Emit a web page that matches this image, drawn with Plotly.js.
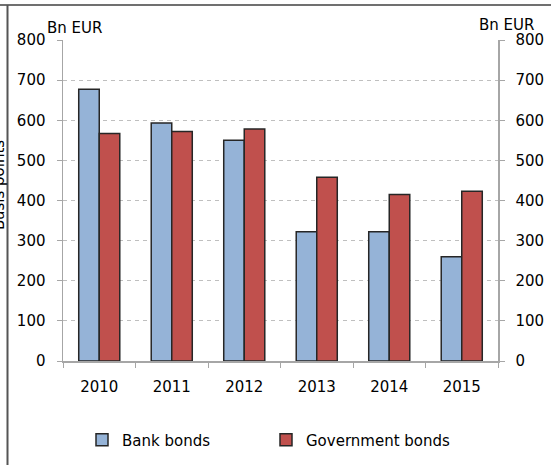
<!DOCTYPE html>
<html>
<head>
<meta charset="utf-8">
<script src="https://cdn.plot.ly/plotly-3.0.1.min.js"></script>
<style>
  html, body { margin: 0; padding: 0; background: #fff; }
  #chart { width: 551px; height: 465px; }
</style>
</head>
<body>
<div id="chart"></div>
<script>
const years = ['2010', '2011', '2012', '2013', '2014', '2015'];
const bankBonds = [677, 593, 550, 322, 322, 260];
const governmentBonds = [567, 572, 578, 458, 415, 423];
const yTicks = [0, 100, 200, 300, 400, 500, 600, 700, 800];
const seriesNames = ['Bank bonds', 'Government bonds'];
const unitLabel = 'Bn EUR';
const sideLabel = 'Basis points';

const W = 551, H = 465;
const M = { l: 63, r: 53, t: 40, b: 104 };
const PW = W - M.l - M.r, PH = H - M.t - M.b;
const px = x => (x - M.l) / PW;
const py = y => (H - M.b - y) / PH;

const FONT = 'DejaVu Sans, Verdana, sans-serif';
const lineCol = '#262626';

const traces = [
  {
    type: 'bar', name: seriesNames[0], x: years, y: bankBonds,
    marker: { color: '#95b3d7', line: { color: lineCol, width: 1.5 } },
    hoverinfo: 'skip'
  },
  {
    type: 'bar', name: seriesNames[1], x: years, y: governmentBonds,
    marker: { color: '#c0504d', line: { color: lineCol, width: 1.5 } },
    hoverinfo: 'skip'
  },
  {
    type: 'scatter', mode: 'none', x: years, y: years.map(() => null),
    yaxis: 'y2', showlegend: false, hoverinfo: 'skip'
  }
];

const yAxisCommon = {
  range: [0, 800],
  tickvals: yTicks,
  ticks: 'outside', ticklen: 5, tickcolor: '#a6a6a6', tickwidth: 1,
  showline: true, linecolor: '#a6a6a6', linewidth: 1.5,
  zeroline: false, fixedrange: true,
  tickfont: { family: FONT, size: 15, color: '#000' },
  ticklabelstandoff: 8
};

const layout = {
  width: W, height: H,
  margin: M,
  paper_bgcolor: '#fff', plot_bgcolor: '#fff',
  barmode: 'group', bargap: 0.434, bargroupgap: 0,
  showlegend: true,
  font: { family: FONT, color: '#000' },
  xaxis: {
    type: 'category', tickson: 'boundaries',
    ticks: 'outside', ticklen: 5, tickcolor: '#a6a6a6',
    showline: true, linecolor: '#a6a6a6', linewidth: 1.5,
    showgrid: false, zeroline: false, fixedrange: true,
    tickfont: { family: FONT, size: 15, color: '#000' },
    ticklabelstandoff: 11
  },
  yaxis: Object.assign({}, yAxisCommon, {
    showgrid: true, gridcolor: '#bfbfbf', griddash: '4px,4px', gridwidth: 1
  }),
  yaxis2: Object.assign({}, yAxisCommon, {
    overlaying: 'y', side: 'right', showgrid: false
  }),
  legend: {
    orientation: 'h',
    xref: 'container', x: 82 / W, xanchor: 'left',
    yref: 'container', y: 1 - 440 / H, yanchor: 'middle',
    font: { family: FONT, size: 15, color: '#000' },
    entrywidth: 139, entrywidthmode: 'pixels',
    bgcolor: 'rgba(0,0,0,0)', traceorder: 'normal'
  },
  annotations: [
    { text: unitLabel, xref: 'paper', yref: 'paper', x: px(74), y: py(28.5),
      xanchor: 'center', yanchor: 'middle', showarrow: false,
      font: { family: FONT, size: 15, color: '#000' } },
    { text: unitLabel, xref: 'paper', yref: 'paper', x: px(506), y: py(25),
      xanchor: 'center', yanchor: 'middle', showarrow: false,
      font: { family: FONT, size: 15, color: '#000' } },
    { text: sideLabel, xref: 'paper', yref: 'paper', x: px(-1), y: py(185),
      xanchor: 'center', yanchor: 'middle', showarrow: false, textangle: -90,
      font: { family: FONT, size: 15, color: '#000' } }
  ],
  shapes: [
    { type: 'line', xref: 'paper', yref: 'paper', x0: px(0), x1: px(551),
      y0: py(5), y1: py(5), line: { color: '#404040', width: 1.5 } },
    { type: 'line', xref: 'paper', yref: 'paper', x0: px(7.5), x1: px(7.5),
      y0: py(5), y1: py(465), line: { color: '#555555', width: 2 } }
  ]
};

Plotly.newPlot('chart', traces, layout, { displayModeBar: false, staticPlot: true });
</script>
</body>
</html>
